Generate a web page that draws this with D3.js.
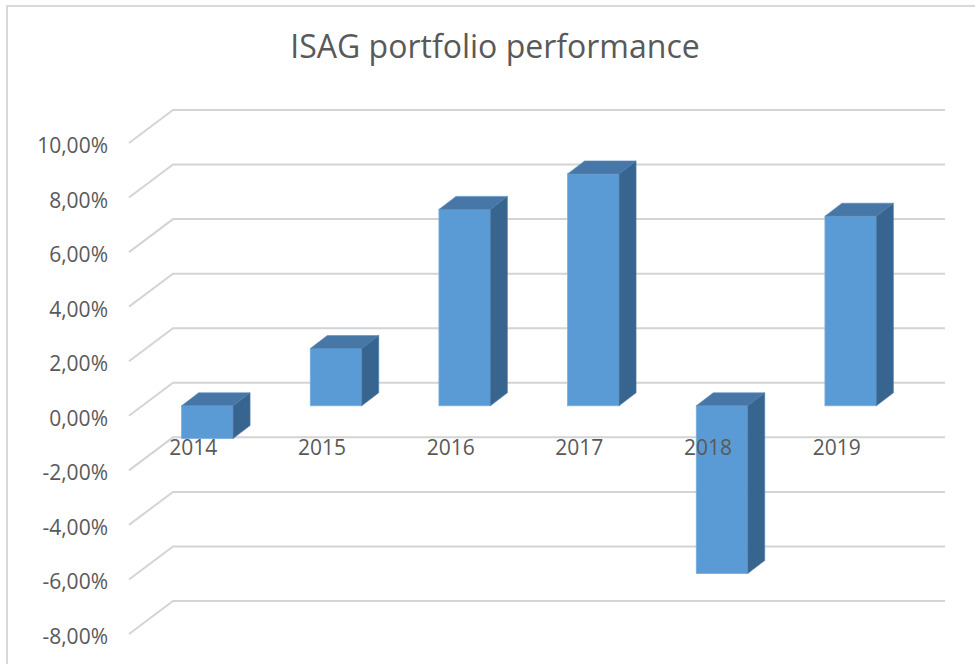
<!DOCTYPE html>
<html>
<head>
<meta charset="utf-8">
<script src="https://cdn.jsdelivr.net/npm/d3@7"></script>
<style>
  body { margin: 0; background: #fff; }
  text { font-family: "Open Sans", sans-serif; fill: #595959; }
</style>
</head>
<body>
<svg id="chart" width="975" height="664"></svg>
<script>
// data (percent)
const years = ["2014", "2015", "2016", "2017", "2018", "2019"]
const returns = [-1.2, 2.1, 7.2, 8.5, -6.15, 6.95]
const yTicks = [-8, -6, -4, -2, 0, 2, 4, 6, 8, 10]
const title = "ISAG portfolio performance"

const svg = d3.select("#chart")

// back wall of the 3D plot
const wall = { left: 173, right: 945, top: 110, bottom: 601 }
// offsets from back wall to the front edge of the side wall
const side = { dx: -44, dy: 33 }
// bar front face offset and bar depth
const barFront = { dx: -30, dy: 23 }
const barDepth = { dx: 17, dy: -13 }

const yScale = d3.scaleLinear()
    .domain([-8, 10])
    .range([wall.bottom, wall.top])

const xScale = d3.scaleBand()
    .domain(years)
    .range([wall.left, wall.right])
    .paddingInner(0.6)
    .paddingOuter(0.3)

// comma decimals, plain hyphen minus
const locale = d3.formatLocale({ decimal: ",", thousands: ".", grouping: [3], currency: ["", ""], minus: "-" })
const fmt = d => locale.format(".2f")(d) + "%"

// chart frame
svg.append("path")
    .attr("d", "M7,664V6H975")
    .attr("fill", "none")
    .attr("stroke", "#d9d9d9")
    .attr("stroke-width", 2)

// title
svg.append("text")
    .attr("x", 495)
    .attr("y", 58)
    .attr("text-anchor", "middle")
    .style("font-size", "32px")
    .text(title)

// gridlines: diagonal on side wall + horizontal on back wall
svg.append("g")
    .selectAll("path")
    .data(yTicks)
    .enter()
    .append("path")
    .attr("d", d => {
        let y = yScale(d)
        return "M" + (wall.left + side.dx) + "," + (y + side.dy) +
            "L" + wall.left + "," + y + "H" + wall.right
    })
    .attr("fill", "none")
    .attr("stroke", "#d4d4d4")
    .attr("stroke-width", 2)

// y tick labels
svg.append("g")
    .selectAll("text")
    .data(yTicks)
    .enter()
    .append("text")
    .attr("x", 108)
    .attr("y", d => yScale(d) + side.dy + 10)
    .attr("text-anchor", "end")
    .style("font-size", "21px")
    .text(fmt)

// bars
const bw = xScale.bandwidth()
const bars = svg.append("g")
    .selectAll("g")
    .data(years.map((y, i) => ({ year: y, value: returns[i] })))
    .enter()
    .append("g")

function faces(d) {
    let x = xScale(d.year) + barFront.dx
    let yt = yScale(Math.max(d.value, 0)) + barFront.dy
    let yb = yScale(Math.min(d.value, 0)) + barFront.dy
    return { x, yt, yb }
}

bars.append("rect")
    .attr("x", d => faces(d).x)
    .attr("y", d => faces(d).yt)
    .attr("width", bw)
    .attr("height", d => faces(d).yb - faces(d).yt)
    .attr("fill", "#5b9bd5")
    .attr("stroke", "#7aaedc")
    .attr("stroke-width", 0.8)

bars.append("polygon")
    .attr("points", d => {
        let f = faces(d)
        return [[f.x, f.yt], [f.x + bw, f.yt],
            [f.x + bw + barDepth.dx, f.yt + barDepth.dy],
            [f.x + barDepth.dx, f.yt + barDepth.dy]].join(" ")
    })
    .attr("fill", "#4677a7")
    .attr("stroke", "#5a8cbd")
    .attr("stroke-width", 0.6)

bars.append("polygon")
    .attr("points", d => {
        let f = faces(d)
        return [[f.x + bw, f.yt],
            [f.x + bw + barDepth.dx, f.yt + barDepth.dy],
            [f.x + bw + barDepth.dx, f.yb + barDepth.dy],
            [f.x + bw, f.yb]].join(" ")
    })
    .attr("fill", "#386590")
    .attr("stroke", "#4f7ba6")
    .attr("stroke-width", 0.6)

// category labels on the floor front edge
svg.append("g")
    .selectAll("text")
    .data(years)
    .enter()
    .append("text")
    .attr("x", d => xScale(d) + bw / 2 + side.dx)
    .attr("y", yScale(0) + side.dy + 39)
    .attr("text-anchor", "middle")
    .style("font-size", "21px")
    .text(d => d)
</script>
</body>
</html>
